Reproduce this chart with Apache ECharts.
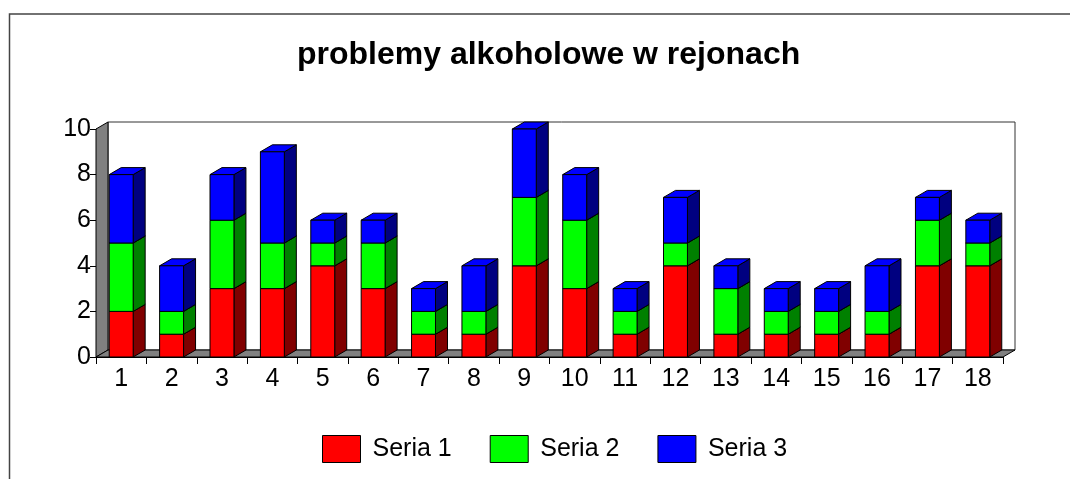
<!DOCTYPE html>
<html>
<head>
<meta charset="utf-8">
<script src="https://cdn.jsdelivr.net/npm/echarts@6/dist/echarts.min.js"></script>
<style>
  html, body { margin: 0; padding: 0; background: #ffffff; }
  #chart { width: 1070px; height: 479px; }
</style>
</head>
<body>
<div id="chart"></div>
<script>
// Districts and the three stacked series
const categories = ['1','2','3','4','5','6','7','8','9','10','11','12','13','14','15','16','17','18'];
const seria1 = [2, 1, 3, 3, 4, 3, 1, 1, 4, 3, 1, 4, 1, 1, 1, 1, 4, 4];
const seria2 = [3, 1, 3, 2, 1, 2, 1, 1, 3, 3, 1, 1, 2, 1, 1, 1, 2, 1];
const seria3 = [3, 2, 2, 4, 1, 1, 1, 2, 3, 2, 1, 2, 1, 1, 1, 2, 1, 1];
const seriesNames = ['Seria 1', 'Seria 2', 'Seria 3'];
const yTicks = [0, 2, 4, 6, 8, 10];

// Oblique depth of the pseudo-3D box, in pixels
const DX = 12, DY = -7;
const FONT = 'Liberation Sans, Arial, sans-serif';

const palette = [
  { front: '#ff0000', side: '#800000', top: '#ff0000' },
  { front: '#00ff00', side: '#008000', top: '#00ff00' },
  { front: '#0000ff', side: '#000080', top: '#0000ff' }
];

// Build [category, start, end] segments for the stacked bars
function stackSegments(layers) {
  const out = [];
  const base = categories.map(() => 0);
  layers.forEach((vals) => {
    const seg = vals.map((v, i) => {
      const s = [i, base[i], base[i] + v];
      base[i] += v;
      return s;
    });
    out.push(seg);
  });
  return out;
}
const segments = stackSegments([seria1, seria2, seria3]);

function barRenderer(colors) {
  return function (params, api) {
    const i = api.value(0);
    const lo = api.value(1), hi = api.value(2);
    const pLo = api.coord([i, lo]);
    const pHi = api.coord([i, hi]);
    const w = api.size([1, 0])[0] * 0.475;
    const x0 = pLo[0] - w / 2, x1 = pLo[0] + w / 2;
    const yb = pLo[1], yt = pHi[1];
    const stroke = { stroke: '#000000', lineWidth: 1 };
    return {
      type: 'group',
      children: [
        {
          type: 'polygon',
          shape: { points: [[x1, yb], [x1 + DX, yb + DY], [x1 + DX, yt + DY], [x1, yt]] },
          style: Object.assign({ fill: colors.side }, stroke)
        },
        {
          type: 'polygon',
          shape: { points: [[x0, yt], [x1, yt], [x1 + DX, yt + DY], [x0 + DX, yt + DY]] },
          style: Object.assign({ fill: colors.top }, stroke)
        },
        {
          type: 'rect',
          shape: { x: x0, y: yt, width: w, height: yb - yt },
          style: Object.assign({ fill: colors.front }, stroke)
        }
      ]
    };
  };
}

// Gray side wall, floor and the white back wall of the box
function wallRenderer(params, api) {
  const c = params.coordSys;
  const L = c.x, R = c.x + c.width, T = c.y, B = c.y + c.height;
  return {
    type: 'group',
    children: [
      {
        type: 'rect',
        shape: { x: L + DX, y: T + DY, width: c.width, height: c.height },
        style: { fill: '#ffffff', stroke: '#333333', lineWidth: 1 }
      },
      {
        type: 'polygon',
        shape: { points: [[L, B], [L, T], [L + DX, T + DY], [L + DX, B + DY]] },
        style: { fill: '#808080', stroke: '#000000', lineWidth: 1 }
      },
      {
        type: 'polygon',
        shape: { points: [[L, B], [L + DX, B + DY], [R + DX, B + DY], [R, B]] },
        style: { fill: '#808080', stroke: '#000000', lineWidth: 1 }
      }
    ]
  };
}

const chart = echarts.init(document.getElementById('chart'), null, { renderer: 'canvas' });

const series = [
  {
    type: 'custom',
    name: '__walls',
    renderItem: wallRenderer,
    data: [[0, 0, 0]],
    encode: { x: 0, y: 1 },
    silent: true,
    z: 1
  }
];
segments.forEach((seg, k) => {
  series.push({
    type: 'custom',
    name: seriesNames[k],
    renderItem: barRenderer(palette[k]),
    data: seg,
    encode: { x: 0, y: [1, 2] },
    itemStyle: { color: palette[k].front, borderColor: '#000000', borderWidth: 1 },
    z: 3
  });
});

chart.setOption({
  backgroundColor: '#ffffff',
  animation: false,
  title: {
    text: 'problemy alkoholowe w rejonach',
    left: 292,
    top: 34,
    textStyle: { fontFamily: FONT, fontSize: 32, fontWeight: 'bold', color: '#000000' }
  },
  legend: {
    left: 317,
    top: 430,
    itemWidth: 38,
    itemHeight: 27,
    itemGap: 38,
    icon: 'rect',
    textStyle: { fontFamily: FONT, fontSize: 25, color: '#000000', padding: [0, 0, 0, 7] },
    data: seriesNames.map((n, k) => ({
      name: n,
      itemStyle: { color: palette[k].front, borderColor: '#000000', borderWidth: 1 }
    }))
  },
  grid: { left: 96, right: 67, top: 129, bottom: 122, containLabel: false },
  xAxis: {
    type: 'category',
    data: categories,
    boundaryGap: true,
    axisLine: { lineStyle: { color: '#000000', width: 1 } },
    axisTick: { show: true, length: 7, interval: 0, lineStyle: { color: '#000000' } },
    axisLabel: { fontFamily: FONT, fontSize: 25, color: '#000000', margin: 10, interval: 0 },
    splitLine: { show: false }
  },
  yAxis: {
    type: 'value',
    min: yTicks[0],
    max: yTicks[yTicks.length - 1],
    interval: yTicks[1] - yTicks[0],
    axisLine: { show: true, lineStyle: { color: '#000000', width: 1 } },
    axisTick: { show: true, length: 6, lineStyle: { color: '#000000' } },
    axisLabel: { fontFamily: FONT, fontSize: 25, color: '#000000', margin: 5 },
    splitLine: { show: false }
  },
  graphic: [
    {
      type: 'rect',
      shape: { x: 9.5, y: 14, width: 1100, height: 500 },
      style: { fill: null, stroke: '#444444', lineWidth: 1.5 },
      silent: true,
      z: 0
    }
  ],
  series: series
});
</script>
</body>
</html>
